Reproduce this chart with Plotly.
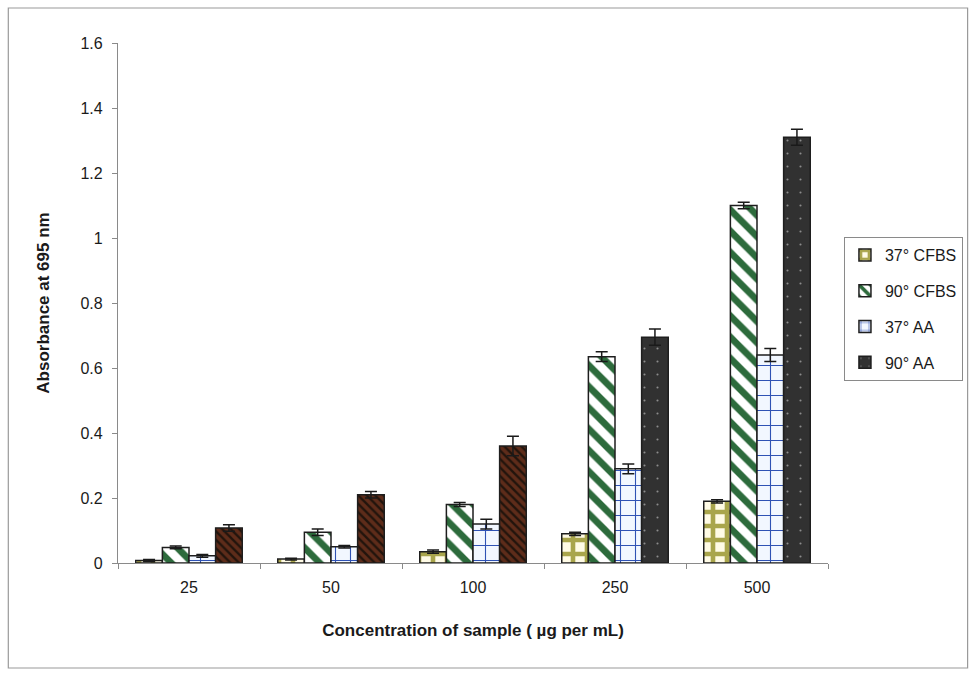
import plotly.graph_objects as go

# Concentration groups and measured absorbance (mean ± error)
concentrations = ["25", "50", "100", "250", "500"]

cfbs_37 = [0.008, 0.012, 0.035, 0.09, 0.19]
cfbs_37_err = [0.003, 0.003, 0.005, 0.005, 0.005]

cfbs_90 = [0.048, 0.095, 0.18, 0.635, 1.10]
cfbs_90_err = [0.004, 0.010, 0.006, 0.015, 0.010]

aa_37 = [0.022, 0.05, 0.12, 0.29, 0.64]
aa_37_err = [0.004, 0.004, 0.015, 0.015, 0.020]

aa_90 = [0.108, 0.21, 0.36, 0.695, 1.31]
aa_90_err = [0.010, 0.010, 0.030, 0.025, 0.025]

series_names = ["37° CFBS", "90° CFBS", "37° AA", "90° AA"]

FONT = "Liberation Sans, Arial, sans-serif"
OUTLINE = dict(color="#1e1e1e", width=1.5)


def err(vals):
    return dict(type="data", array=vals, visible=True, color="#1a1a1a",
                thickness=1.5, width=6, symmetric=True)


fig = go.Figure()

fig.add_trace(go.Bar(
    name=series_names[0], x=concentrations, y=cfbs_37, error_y=err(cfbs_37_err),
    legendgroup="a", offsetgroup="a",
    marker=dict(color="#fffbe6", line=OUTLINE,
                pattern=dict(shape="+", fgcolor="#a9a54c", fgopacity=1,
                             size=14, solidity=0.55, fillmode="overlay")),
))

fig.add_trace(go.Bar(
    name=series_names[1], x=concentrations, y=cfbs_90, error_y=err(cfbs_90_err),
    legendgroup="b", offsetgroup="b",
    marker=dict(color="white", line=OUTLINE,
                pattern=dict(shape="\\", fgcolor="#2d6b3c", fgopacity=1,
                             size=15, solidity=0.45, fillmode="overlay")),
))

fig.add_trace(go.Bar(
    name=series_names[2], x=concentrations, y=aa_37, error_y=err(aa_37_err),
    legendgroup="c", offsetgroup="c",
    marker=dict(color="#f2f7ff", line=OUTLINE,
                pattern=dict(shape="+", fgcolor="#2f52b4", fgopacity=1,
                             size=15, solidity=0.14, fillmode="overlay")),
))

# 90° AA: hatched brown at low concentrations, speckled charcoal at high ones;
# both parts share one offset group so they sit in the same slot.
n_low = 3
aa_90_low = aa_90[:n_low] + [None] * (len(aa_90) - n_low)
aa_90_high = [None] * n_low + aa_90[n_low:]
aa_90_err_low = aa_90_err[:n_low] + [0] * (len(aa_90) - n_low)
aa_90_err_high = [0] * n_low + aa_90_err[n_low:]

fig.add_trace(go.Bar(
    name=series_names[3], x=concentrations, y=aa_90_low, error_y=err(aa_90_err_low),
    legendgroup="d", offsetgroup="d", showlegend=False,
    marker=dict(color="#5e2c1a", line=OUTLINE,
                pattern=dict(shape="\\", fgcolor="#22140c", fgopacity=1,
                             size=6, solidity=0.4, fillmode="overlay")),
))
fig.add_trace(go.Bar(
    name=series_names[3], x=concentrations, y=aa_90_high, error_y=err(aa_90_err_high),
    legendgroup="d", offsetgroup="d",
    marker=dict(color="#313131", line=OUTLINE,
                pattern=dict(shape=".", fgcolor="#8c8c8c", fgopacity=1,
                             size=13, solidity=0.02, fillmode="overlay")),
))

# page frame around the whole chart
L, R, T, B = 118, 145, 43, 112
pw, ph = 975 - L - R, 675 - T - B
fig.add_shape(type="rect", xref="paper", yref="paper",
              x0=(8 - L) / pw, x1=(970 - L) / pw,
              y0=(675 - B - 668) / ph, y1=(675 - B - 8) / ph,
              line=dict(color="#9a9a9a", width=1.2), fillcolor="rgba(0,0,0,0)",
              layer="below")

fig.update_layout(
    width=975, height=675,
    margin=dict(l=L, r=R, t=T, b=B),
    paper_bgcolor="white", plot_bgcolor="white",
    barmode="group", bargap=0.25, bargroupgap=0.0,
    font=dict(family=FONT, size=16, color="#1a1a1a"),
    showlegend=True,
    legend=dict(x=(846 - L) / pw, y=(675 - B - 237) / ph, xanchor="left", yanchor="top",
                bgcolor="white", bordercolor="#8a8a8a", borderwidth=1,
                font=dict(family=FONT, size=16, color="#1a1a1a"),
                tracegroupgap=12, traceorder="grouped"),
    xaxis=dict(
        title=dict(text="<b>Concentration of sample ( µg per mL)</b>",
                   font=dict(family=FONT, size=17), standoff=28),
        showline=True, linecolor="#8a8a8a", linewidth=1.2,
        ticks="outside", tickson="boundaries", ticklen=5, tickcolor="#8a8a8a",
        ticklabelstandoff=10,
        tickfont=dict(family=FONT, size=16), showgrid=False, zeroline=False,
    ),
    yaxis=dict(
        title=dict(text="<b>Absorbance at 695 nm</b>",
                   font=dict(family=FONT, size=17), standoff=26),
        range=[0, 1.6], dtick=0.2, tickformat="~g",
        showline=True, linecolor="#8a8a8a", linewidth=1.2,
        ticks="outside", ticklen=5, tickcolor="#8a8a8a",
        ticklabelstandoff=6,
        tickfont=dict(family=FONT, size=16), showgrid=False, zeroline=False,
    ),
)

fig.write_html("out.html")
